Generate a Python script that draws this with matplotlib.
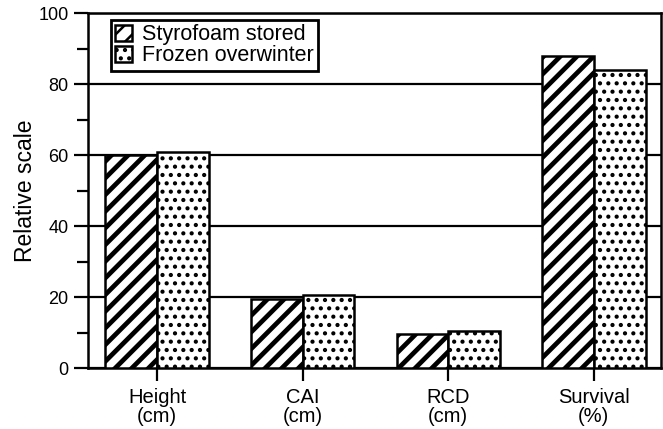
import matplotlib
matplotlib.use("Agg")
import matplotlib.pyplot as plt
import numpy as np

categories = ["Height\n(cm)", "CAI\n(cm)", "RCD\n(cm)", "Survival\n(%)"]
styrofoam = [60, 19.5, 9.5, 88]
frozen = [61, 20.5, 10.5, 84]
series_names = ["Styrofoam stored", "Frozen overwinter"]

plt.rcParams["font.family"] = ["Liberation Sans", "DejaVu Sans"]

fig = plt.figure(figsize=(6.63, 4.29), dpi=100)
ax = fig.add_axes([0.1327, 0.142, 0.864, 0.8275])

x = np.arange(len(categories))
w = 0.355

# thick diagonal stripes for the first series, dots for the second
plt.rcParams["hatch.linewidth"] = 3.4
b1 = ax.bar(x - w / 2, styrofoam, w, color="white", edgecolor="black",
            linewidth=1.8, hatch="//", label=series_names[0], zorder=3)
plt.rcParams["hatch.linewidth"] = 1.8
b2 = ax.bar(x + w / 2, frozen, w, color="white", edgecolor="black",
            linewidth=1.8, hatch="..", label=series_names[1], zorder=3)

ax.set_xlim(-0.475, 3.46)
ax.set_ylim(0, 100)
ax.set_yticks(range(0, 101, 20))
ax.set_yticks(range(10, 100, 20), minor=True)
ax.set_xticks(x)
ax.set_xticklabels(categories, fontsize=14.5, linespacing=1.0)
ax.tick_params(axis="y", labelsize=13, length=10, width=1.6, direction="out", pad=4)
ax.tick_params(axis="y", which="minor", length=8, width=1.6)
ax.tick_params(axis="x", length=18, width=1.6, direction="inout", pad=5)

ax.yaxis.grid(True, color="black", linewidth=1.6)
ax.set_axisbelow(True)
for s in ax.spines.values():
    s.set_linewidth(1.8)

ax.set_ylabel("Relative scale", fontsize=16.5, labelpad=1)

leg = ax.legend(loc="upper left", bbox_to_anchor=(0.04, 0.98), fontsize=15.5,
                frameon=True, fancybox=False, framealpha=1,
                handlelength=0.8, handleheight=0.8,
                handletextpad=0.45, borderpad=0.2, labelspacing=0.0,
                borderaxespad=0)
leg.get_frame().set_edgecolor("black")
leg.get_frame().set_linewidth(2.0)

fig.savefig("out.png", dpi=100)
